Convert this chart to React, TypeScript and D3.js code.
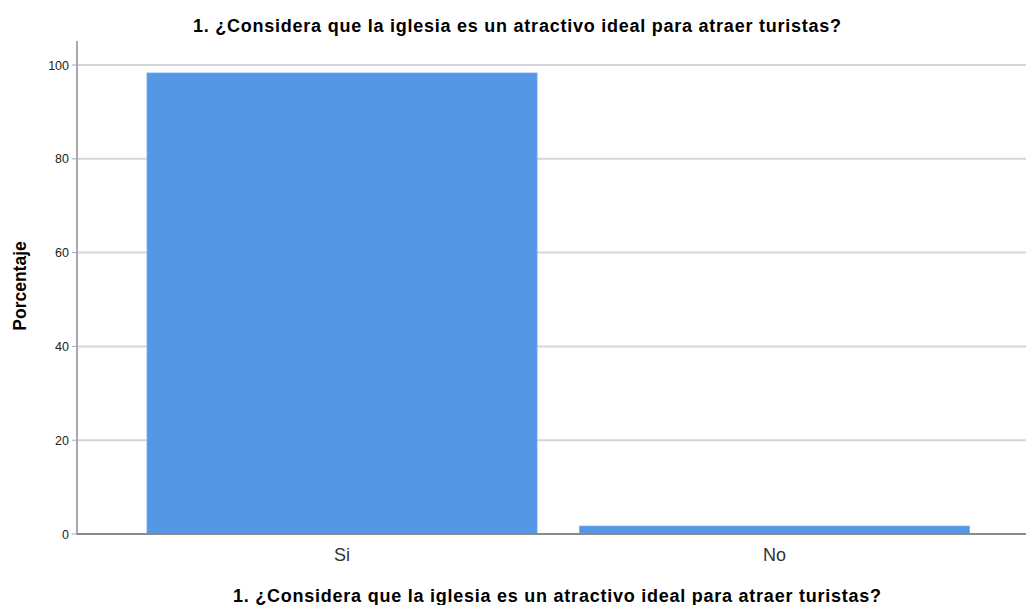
import React from "react";
import * as d3 from "d3";

const categories = ["Si", "No"];
const percentages = [98.3, 1.7];
const yTicks = [0, 20, 40, 60, 80, 100];
const titleText = "1. ¿Considera que la iglesia es un atractivo ideal para atraer turistas?";
const yLabel = "Porcentaje";

const W = 1026;
const H = 605;
const left = 78;
const right = 1026;
const top = 41;
const bottom = 534;

export default function App() {
  const y = d3.scaleLinear().domain([0, 100]).range([bottom, 65]);
  const x = d3
    .scaleBand<string>()
    .domain(categories)
    .range([left, right])
    .paddingInner(0.098)
    .paddingOuter(0.145)
    .align(0.55);
  const font = "'Liberation Sans', Arial, sans-serif";
  return (
    <svg
      width={W}
      height={H}
      style={{ position: "absolute", left: 0, top: 0, background: "#fff" }}
      fontFamily={font}
    >
      <text
        x={517}
        y={32}
        textAnchor="middle"
        fontSize={18}
        fontWeight="bold"
        fill="#000"
        textLength={648}
        lengthAdjust="spacing"
      >
        {titleText}
      </text>
      {yTicks.map((t) =>
        t === 0 ? null : (
          <line key={"g" + t} x1={left} x2={right} y1={y(t)} y2={y(t)} stroke="#d6d6d6" strokeWidth={2} />
        )
      )}
      {categories.map((c, i) => (
        <rect
          key={c}
          x={x(c)}
          y={y(percentages[i])}
          width={x.bandwidth()}
          height={y(0) - y(percentages[i])}
          fill="#5596e5"
          stroke="#7aaef0"
          strokeWidth={0.8}
        />
      ))}
      <line x1={left - 1} x2={left - 1} y1={top} y2={bottom + 1} stroke="#a8a8a8" strokeWidth={2} />
      <line x1={left - 1} x2={right} y1={bottom} y2={bottom} stroke="#8a8a8a" strokeWidth={2} />
      {yTicks.map((t) => (
        <g key={"t" + t}>
          <line x1={left - 6} x2={left - 1} y1={y(t)} y2={y(t)} stroke="#a8a8a8" strokeWidth={1} />
          <text x={69} y={y(t) + 4.5} textAnchor="end" fontSize={12.5} fill="#222">
            {t}
          </text>
        </g>
      ))}
      {categories.map((c) => (
        <text
          key={"l" + c}
          x={(x(c) as number) + x.bandwidth() / 2}
          y={560.5}
          textAnchor="middle"
          fontSize={18}
          fill="#333"
        >
          {c}
        </text>
      ))}
      <text
        transform={`translate(26, 286) rotate(-90)`}
        textAnchor="middle"
        fontSize={17.5}
        fontWeight="bold"
        fill="#000"
      >
        {yLabel}
      </text>
      <text
        x={557}
        y={601.5}
        textAnchor="middle"
        fontSize={18}
        fontWeight="bold"
        fill="#000"
        textLength={648}
        lengthAdjust="spacing"
      >
        {titleText}
      </text>
    </svg>
  );
}
